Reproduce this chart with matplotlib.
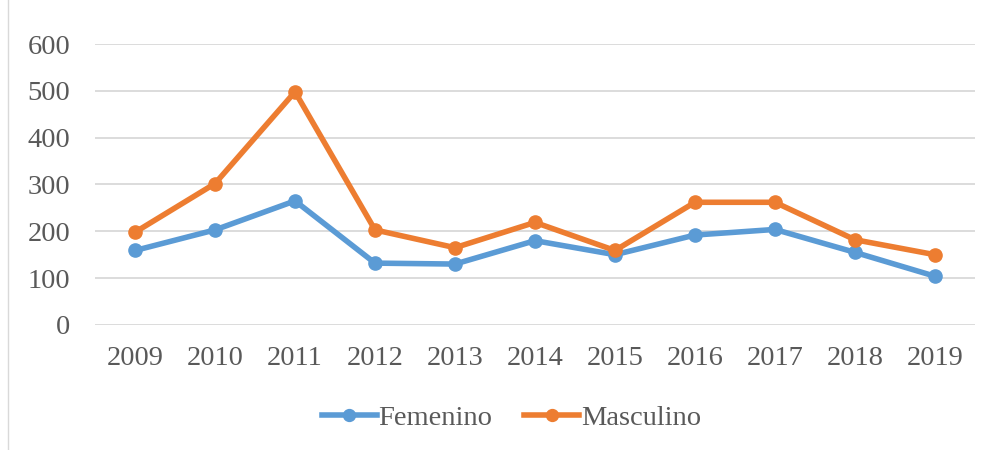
import matplotlib.pyplot as plt
from matplotlib.patches import Rectangle

years = ['2009', '2010', '2011', '2012', '2013', '2014', '2015', '2016', '2017', '2018', '2019']
femenino = [159, 203, 265, 132, 130, 180, 150, 192, 204, 155, 104]
masculino = [198, 302, 498, 203, 165, 219, 159, 262, 262, 182, 150]

plt.rcParams['font.family'] = ['Liberation Serif', 'DejaVu Serif']

fig = plt.figure(figsize=(9.92, 4.5), dpi=100)
ax = fig.add_axes([0.0958, 0.278, 0.887, 0.624])

x = range(len(years))
ax.plot(x, femenino, color='#5B9BD5', lw=4.0, marker='o', ms=9.5, label='Femenino')
ax.plot(x, masculino, color='#ED7D31', lw=4.0, marker='o', ms=9.5, label='Masculino')

ax.set_xlim(-0.5, len(years) - 0.5)
ax.set_ylim(0, 600)
ax.set_yticks(range(0, 601, 100))
ax.set_xticks(list(x))
ax.set_xticklabels(years)
ax.yaxis.grid(True, color='#D9D9D9', lw=1.3)
ax.set_axisbelow(True)
for s in ax.spines.values():
    s.set_visible(False)
ax.tick_params(axis='both', length=0, labelsize=20.5, colors='#595959')
ax.tick_params(axis='x', pad=15)
ax.tick_params(axis='y', pad=18)

ax.legend(loc='center', bbox_to_anchor=(0.473, -0.33), ncol=2, frameon=False,
          fontsize=20.5, handlelength=1.95, columnspacing=1.1, handletextpad=0.05,
          markerscale=0.9, labelcolor='#595959')

fig.patches.append(Rectangle((8 / 992, -0.01), 1.0, 1.02, transform=fig.transFigure,
                             fill=False, edgecolor='#D9D9D9', lw=1))

fig.savefig('out.png', dpi=100)
